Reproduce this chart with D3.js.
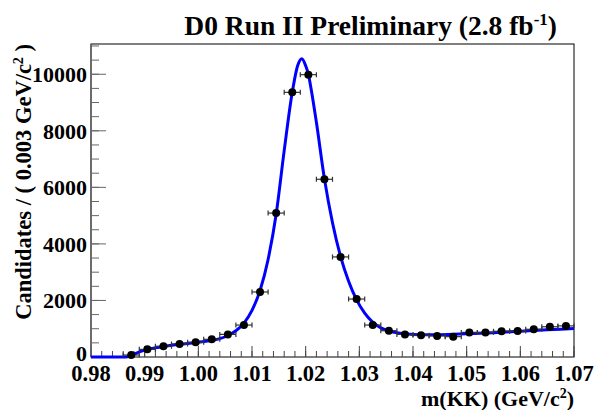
<!DOCTYPE html>
<html>
<head>
<meta charset="utf-8">
<script src="https://cdn.jsdelivr.net/npm/d3@7"></script>
<style>
  body { margin: 0; background: #fff; }
  text { font-family: "Liberation Serif", "Times New Roman", serif; font-weight: bold; }
</style>
</head>
<body>
<div id="chart"></div>
<script>
// data points (bin centres, 0.003 GeV wide bins)
const binCenters = [0.9875, 0.9905, 0.9935, 0.9965, 0.9995, 1.0025, 1.0055, 1.0085, 1.0115, 1.0145,
                    1.0175, 1.0205, 1.0235, 1.0265, 1.0295, 1.0325, 1.0355, 1.0385, 1.0415, 1.0445,
                    1.0475, 1.0505, 1.0535, 1.0565, 1.0595, 1.0625, 1.0655, 1.0685];
const counts = [70, 270, 380, 460, 520, 625, 800, 1130, 2300, 5090,
                9360, 9985, 6285, 3540, 2050, 1130, 930, 800, 770, 745,
                720, 870, 870, 910, 920, 980, 1070, 1100];

// fit curve
const fitX = [0.980, 0.9865, 0.9875, 0.989, 0.9905, 0.9935, 0.9965, 0.9995, 1.0025, 1.004,
              1.0055, 1.007, 1.0085, 1.010, 1.0115, 1.013, 1.0145, 1.016, 1.0175, 1.0185,
              1.0193, 1.020, 1.0205, 1.021, 1.022, 1.0235, 1.025, 1.0265, 1.028, 1.0295,
              1.031, 1.0325, 1.034, 1.0355, 1.0385, 1.0415, 1.045, 1.050, 1.055, 1.060,
              1.065, 1.070];
const fitY = [0, 0, 60, 180, 270, 370, 450, 510, 590, 650,
              760, 930, 1200, 1650, 2350, 3450, 5050, 7300, 9360, 10300,
              10550, 10300, 10000, 9500, 8300, 6300, 4750, 3560, 2680, 2020,
              1550, 1230, 1030, 920, 820, 790, 790, 820, 860, 910,
              960, 1010];

const xMajor = [0.98, 0.99, 1.00, 1.01, 1.02, 1.03, 1.04, 1.05, 1.06, 1.07];
const yMajor = [0, 2000, 4000, 6000, 8000, 10000];

const W = 597, H = 410;
const margin = {top: 44, right: 23, bottom: 53, left: 91};
const width = W - margin.left - margin.right;
const height = H - margin.top - margin.bottom;

const svg = d3.select("#chart").append("svg")
    .attr("width", W)
    .attr("height", H);

const g = svg.append("g")
    .attr("transform", "translate(" + margin.left + "," + margin.top + ")");

const x = d3.scaleLinear().domain([0.98, 1.07]).range([0, width]);
const y = d3.scaleLinear().domain([0, 11070]).range([height, 0]);

// frame
g.append("rect")
    .attr("width", width)
    .attr("height", height)
    .attr("fill", "none")
    .attr("stroke", "#000")
    .attr("stroke-width", 1);

// x ticks (drawn inward)
const xMinor = d3.range(0, 46).map(i => 0.98 + i * 0.002);
g.selectAll(".xminor").data(xMinor).enter().append("line")
    .attr("x1", d => x(d)).attr("x2", d => x(d))
    .attr("y1", height).attr("y2", height - 6)
    .attr("stroke", "#444");
g.selectAll(".xmajor").data(xMajor).enter().append("line")
    .attr("x1", d => x(d)).attr("x2", d => x(d))
    .attr("y1", height).attr("y2", height - 11)
    .attr("stroke", "#444");
g.selectAll(".xlab").data(xMajor).enter().append("text")
    .attr("x", d => x(d))
    .attr("y", height + 24)
    .attr("text-anchor", "middle")
    .attr("font-size", 22.5)
    .text(d => d.toFixed(2));

// y ticks (drawn inward)
const yMinor = d3.range(0, 23).map(i => i * 500);
g.selectAll(".yminor").data(yMinor).enter().append("line")
    .attr("x1", 0).attr("x2", 8)
    .attr("y1", d => y(d)).attr("y2", d => y(d))
    .attr("stroke", "#666");
g.selectAll(".ymajor").data(yMajor).enter().append("line")
    .attr("x1", 0).attr("x2", 15)
    .attr("y1", d => y(d)).attr("y2", d => y(d))
    .attr("stroke", "#666");
g.append("line")
    .attr("x1", 0).attr("x2", 0)
    .attr("y1", 0).attr("y2", height)
    .attr("stroke", "#666").attr("stroke-width", 1.5);
g.selectAll(".ylab").data(yMajor).enter().append("text")
    .attr("x", -4)
    .attr("y", d => y(d))
    .attr("dy", d => d === 0 ? "0.2em" : "0.35em")
    .attr("text-anchor", "end")
    .attr("font-size", 22)
    .text(d => d);

// fit curve
const line = d3.line()
    .x(d => x(d[0]))
    .y(d => y(d[1]))
    .curve(d3.curveMonotoneX);
g.append("path")
    .datum(fitX.map((d, i) => [d, fitY[i]]))
    .attr("d", line)
    .attr("fill", "none")
    .attr("stroke", "#0000ff")
    .attr("stroke-width", 3);

// data points with error bars
const pts = binCenters.map((d, i) => ({x: d, y: counts[i]}));
const pg = g.selectAll(".pt").data(pts).enter().append("g");
pg.append("line")
    .attr("x1", d => x(d.x - 0.0015)).attr("x2", d => x(d.x + 0.0015))
    .attr("y1", d => y(d.y)).attr("y2", d => y(d.y))
    .attr("stroke", "#333").attr("stroke-width", 1.2);
pg.append("line")
    .attr("x1", d => x(d.x - 0.0015)).attr("x2", d => x(d.x - 0.0015))
    .attr("y1", d => y(d.y) - 2.5).attr("y2", d => y(d.y) + 2.5)
    .attr("stroke", "#333").attr("stroke-width", 1.2);
pg.append("line")
    .attr("x1", d => x(d.x + 0.0015)).attr("x2", d => x(d.x + 0.0015))
    .attr("y1", d => y(d.y) - 2.5).attr("y2", d => y(d.y) + 2.5)
    .attr("stroke", "#333").attr("stroke-width", 1.2);
pg.append("line")
    .attr("x1", d => x(d.x)).attr("x2", d => x(d.x))
    .attr("y1", d => y(d.y + Math.sqrt(d.y))).attr("y2", d => y(d.y - Math.sqrt(d.y)))
    .attr("stroke", "#333").attr("stroke-width", 1.2);
pg.append("circle")
    .attr("cx", d => x(d.x))
    .attr("cy", d => y(d.y))
    .attr("r", 4)
    .attr("fill", "#000");

// titles
const title = svg.append("text")
    .attr("x", 557)
    .attr("y", 35)
    .attr("text-anchor", "end")
    .attr("font-size", 27.5);
title.append("tspan").text("D0 Run II Preliminary (2.8 fb");
title.append("tspan").attr("dy", -10).attr("font-size", 17).text("-1");
title.append("tspan").attr("dy", 10).text(")");

const xt = svg.append("text")
    .attr("x", 574)
    .attr("y", 406)
    .attr("text-anchor", "end")
    .attr("font-size", 22);
xt.append("tspan").text("m(KK) (GeV/c");
xt.append("tspan").attr("dy", -8).attr("font-size", 14).text("2");
xt.append("tspan").attr("dy", 8).text(")");

const yt = svg.append("text")
    .attr("transform", "translate(31,44) rotate(-90)")
    .attr("text-anchor", "end")
    .attr("font-size", 22.5);
yt.append("tspan").text("Candidates / ( 0.003 GeV/c");
yt.append("tspan").attr("dy", -8).attr("font-size", 14).text("2");
yt.append("tspan").attr("dy", 8).text(" )");
</script>
</body>
</html>
